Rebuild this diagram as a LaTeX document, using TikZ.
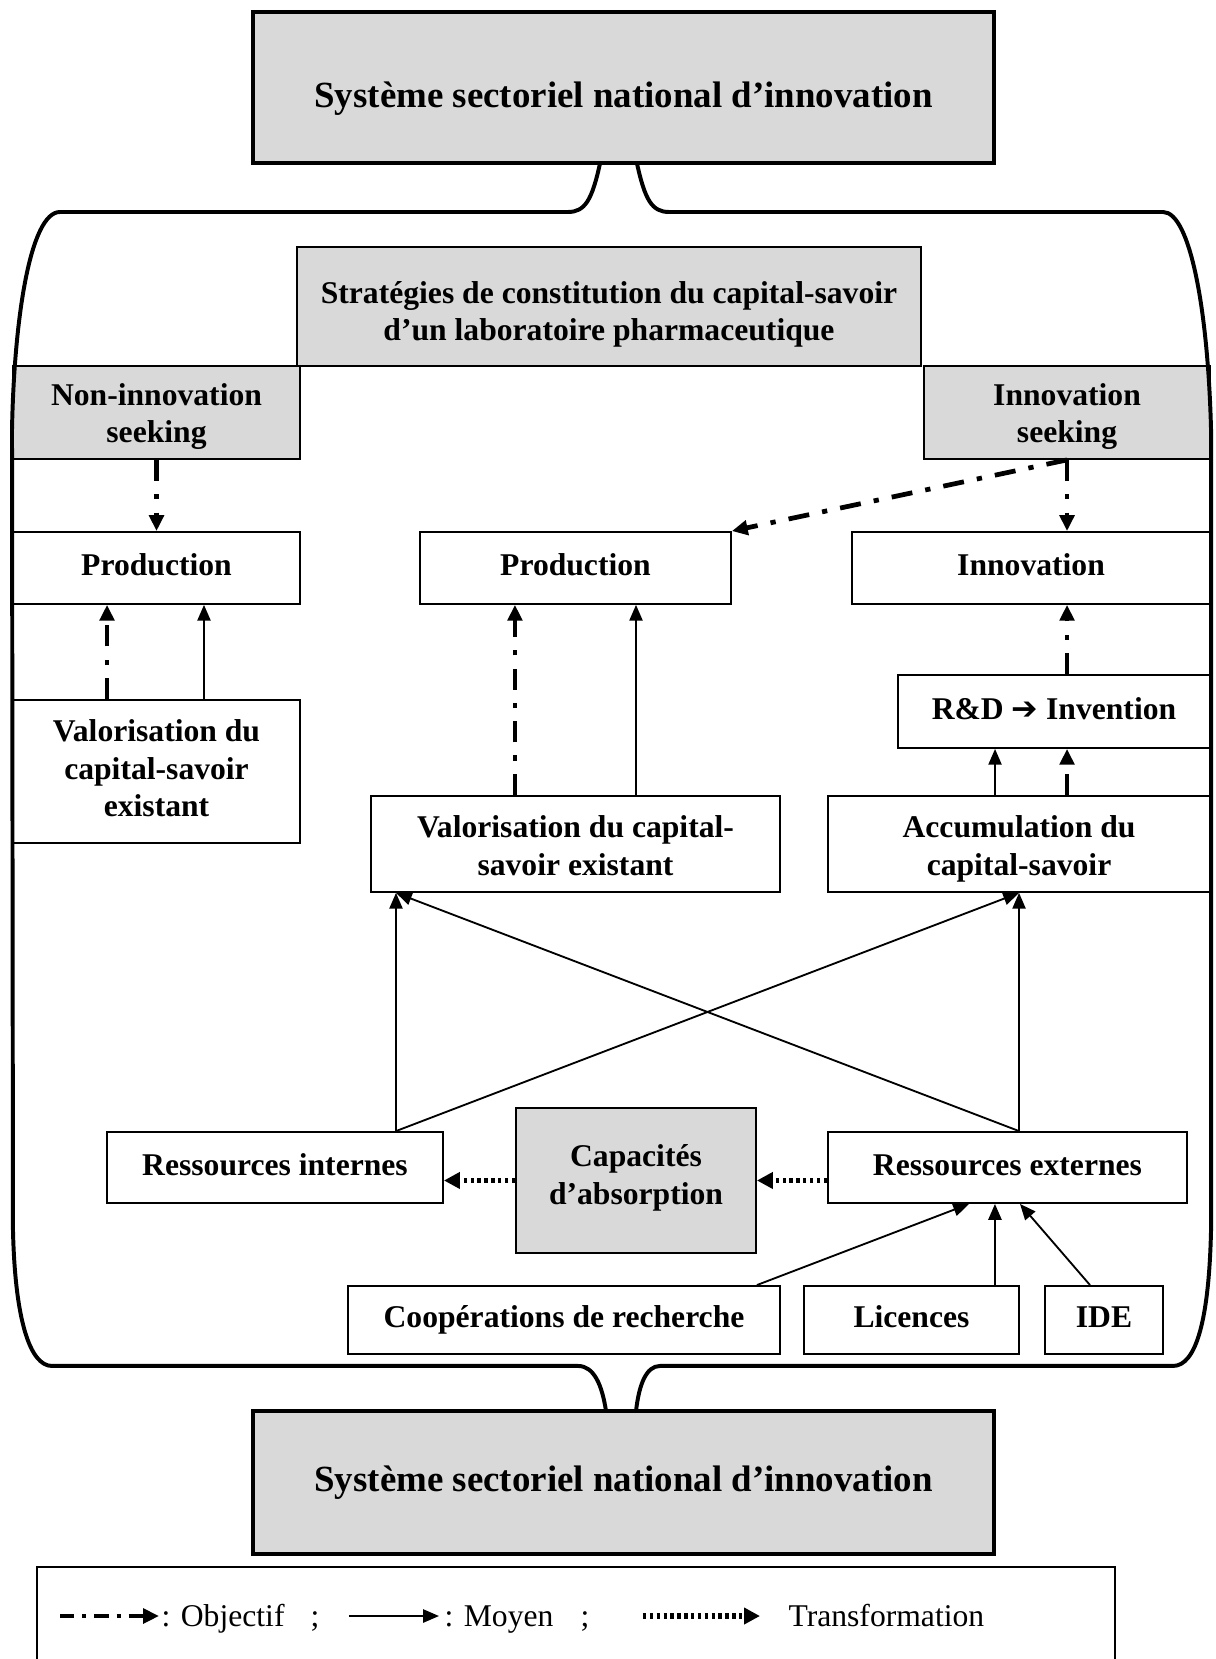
\documentclass[tikz,border=0pt]{standalone}
\usepackage{fontspec}
\setmainfont{Liberation Serif}
\newfontfamily\dingfont{DejaVu Sans}
\usepackage{xcolor}
\usepackage{tikz}
\usetikzlibrary{arrows.meta, positioning, calc}
\definecolor{boxgrey}{RGB}{217,217,217}
\tikzset{
  block/.style={rectangle, draw, line width=0.7pt, fill=white, align=center,
    inner sep=2pt, text height=9pt, text depth=3pt,
    font=\fontsize{12}{14.3}\selectfont\bfseries},
  greyblock/.style={block, fill=boxgrey},
  sysblock/.style={greyblock, line width=1.5pt,
    font=\fontsize{14}{17}\selectfont\bfseries},
  goalarrow/.style={-{Triangle[length=6pt,width=5.5pt]}, line width=1.8pt,
    dash pattern=on 8pt off 5pt on 2pt off 5pt},
  meansarrow/.style={-{Triangle[length=6pt,width=5pt]}, line width=0.7pt},
  transarrow/.style={-{Triangle[length=6pt,width=6pt]}, line width=2.2pt,
    dash pattern=on 1.3pt off 1.3pt},
  frameline/.style={line width=1.5pt, line join=round},
  legendtext/.style={anchor=west, inner sep=0pt, text height=11pt, text depth=3pt,
    font=\fontsize{12}{14}\selectfont},
}

\begin{document}
\begin{tikzpicture}
  \useasboundingbox (0,0) rectangle (16.213,22.12);

  %% national system (top and bottom)
  \node[sysblock, minimum width=9.88cm, minimum height=2.013cm, text height=18pt]
    (sysTop) at (8.313,20.947) {Système sectoriel national d’innovation};
  \node[sysblock, minimum width=9.88cm, minimum height=1.907cm, text height=10pt]
    (sysBot) at (8.313,2.353) {Système sectoriel national d’innovation};

  %% strategies
  \node[greyblock, minimum width=8.32cm, minimum height=1.587cm, text height=30pt,
        text depth=4pt] (strat) at (8.12,18.033)
    {Stratégies de constitution du capital-savoir\\d’un laboratoire pharmaceutique};
  \node[greyblock, minimum width=3.827cm, minimum height=1.24cm, text height=26pt]
    (nonSeek) at (2.087,16.62) {Non-innovation\\seeking};
  \node[greyblock, minimum width=3.813cm, minimum height=1.24cm, text height=26pt]
    (innSeek) at (14.227,16.62) {Innovation\\seeking};

  %% objectives
  \node[block, minimum width=3.827cm, minimum height=0.96cm] (prodL) at (2.087,14.547)
    {Production};
  \node[block, minimum width=4.147cm, minimum height=0.96cm] (prodM) at (7.673,14.547)
    {Production};
  \node[block, minimum width=4.773cm, minimum height=0.96cm] (innov) at (13.747,14.547)
    {Innovation};

  %% knowledge capital
  \node[block, minimum width=3.827cm, minimum height=1.907cm, text height=37.3pt]
    (valL) at (2.087,11.833) {Valorisation du\\capital-savoir\\existant};
  \node[block, minimum width=4.16cm, minimum height=0.973cm] (rnd) at (14.053,12.633)
    {R\&D {\dingfont\symbol{"2794}} Invention};
  \node[block, minimum width=5.453cm, minimum height=1.28cm, text height=27pt]
    (valM) at (7.673,10.867) {Valorisation du capital-\\savoir existant};
  \node[block, minimum width=5.093cm, minimum height=1.28cm, text height=27pt]
    (accum) at (13.587,10.867) {Accumulation du\\capital-savoir};

  %% resources
  \node[block, minimum width=4.48cm, minimum height=0.947cm] (resInt) at (3.667,6.553)
    {Ressources internes};
  \node[greyblock, minimum width=3.2cm, minimum height=1.933cm, text height=21.3pt]
    (capAbs) at (8.48,6.38) {Capacités\\d’absorption};
  \node[block, minimum width=4.787cm, minimum height=0.947cm] (resExt) at (13.433,6.553)
    {Ressources externes};
  \node[block, minimum width=5.76cm, minimum height=0.907cm] (coop) at (7.52,4.52)
    {Coopérations de recherche};
  \node[block, minimum width=2.867cm, minimum height=0.907cm] (lic) at (12.153,4.52)
    {Licences};
  \node[block, minimum width=1.573cm, minimum height=0.907cm] (ide) at (14.72,4.52)
    {IDE};

  %% connectors
  \coordinate (valIn) at ($(valM.south)+(-2.393,0)$);

  \draw[goalarrow] (nonSeek.south) -- (prodL.north);
  \draw[goalarrow] ([xshift=-0.66cm]valL.north) -- ([xshift=-0.66cm]prodL.south);
  \draw[meansarrow] ([xshift=0.633cm]valL.north) -- ([xshift=0.633cm]prodL.south);
  \draw[goalarrow] ([xshift=-0.807cm]valM.north) -- ([xshift=-0.807cm]prodM.south);
  \draw[meansarrow] ([xshift=0.807cm]valM.north) -- ([xshift=0.807cm]prodM.south);
  \draw[goalarrow] (innSeek.south) -- (prodM.north east);
  \draw[goalarrow] (innSeek.south) -- (innSeek.south |- innov.north);
  \draw[goalarrow] (rnd.north -| innSeek.south) -- (innov.south -| innSeek.south);
  \draw[meansarrow] ([xshift=-0.32cm]accum.north) -- ([xshift=-0.32cm]accum.north |- rnd.south);
  \draw[goalarrow] (accum.north -| innSeek.south) -- (rnd.south -| innSeek.south);

  \draw[meansarrow] (resInt.north -| valIn) -- (valIn);
  \draw[meansarrow] (resInt.north -| valIn) -- (accum.south);
  \draw[meansarrow] (resExt.north -| accum.south) -- (accum.south);
  \draw[meansarrow] (resExt.north -| accum.south) -- (valIn);

  \draw[transarrow] (capAbs.west) -- (capAbs.west -| resInt.east);
  \draw[transarrow] (capAbs.east -| resExt.west) -- (capAbs.east);

  \draw[meansarrow] ([xshift=-0.32cm]coop.north east) -- ([xshift=-0.513cm]resExt.south);
  \draw[meansarrow] ([xshift=1.113cm]lic.north) -- ([xshift=1.113cm]lic.north |- resExt.south);
  \draw[meansarrow] ([xshift=-0.187cm]ide.north) -- ([xshift=0.167cm]resExt.south);

  %% outer frame
  \draw[frameline] (8.0,19.94) .. controls (7.893,19.453) and (7.8,19.293) .. (7.573,19.293)
    -- (0.8,19.293) .. controls (0.4,19.293) and (0.187,17.853) .. (0.16,16.387)
    -- (0.173,5.72) .. controls (0.2,4.52) and (0.4,3.907) .. (0.693,3.907)
    -- (7.707,3.907) .. controls (7.92,3.907) and (8.027,3.653) .. (8.08,3.306);
  \draw[frameline] (8.493,19.94) .. controls (8.6,19.453) and (8.693,19.293) .. (8.92,19.293)
    -- (15.507,19.293) .. controls (15.867,19.293) and (16.107,17.987) .. (16.147,16.387)
    -- (16.147,5.72) .. controls (16.12,4.52) and (15.947,3.907) .. (15.64,3.907)
    -- (8.8,3.907) .. controls (8.613,3.907) and (8.52,3.653) .. (8.48,3.306);

  %% legend
  \draw[line width=0.7pt] (0.493,0) -- (0.493,1.227) -- (14.867,1.227) -- (14.867,0);
  \coordinate (objFrom) at (0.8,0.573);
  \coordinate (objTo) at (2.12,0.573);
  \draw[goalarrow, dash pattern=on 5.5pt off 3pt on 1.5pt off 3pt] (objFrom) -- (objTo);
  \node[legendtext] (objText) at (2.147,0.573) {: Objectif};
  \node[legendtext] (objSep) at (4.133,0.573) {;};
  \coordinate (meanFrom) at (4.653,0.573);
  \coordinate (meanTo) at (5.853,0.573);
  \draw[meansarrow] (meanFrom) -- (meanTo);
  \node[legendtext] (meanText) at (5.92,0.573) {: Moyen};
  \node[legendtext] (meanSep) at (7.733,0.573) {;};
  \coordinate (transFrom) at (8.573,0.573);
  \coordinate (transTo) at (10.133,0.573);
  \draw[transarrow] (transFrom) -- (transTo);
  \node[legendtext] (transText) at (10.507,0.573) {Transformation};

\end{tikzpicture}
\end{document}
